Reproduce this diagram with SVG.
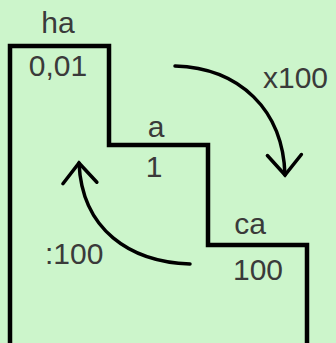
<svg xmlns="http://www.w3.org/2000/svg" width="336" height="343" viewBox="0 0 336 343">
<style>
.t{font-family:"Liberation Sans",Arial,sans-serif;font-size:30px;fill:#3a3a3a}
.c{text-anchor:middle}
.stair{fill:none;stroke:#000;stroke-width:4.5;stroke-linejoin:miter}
.arr{fill:none;stroke:#000;stroke-width:3.5;stroke-linecap:round}
</style>
<defs>
<marker id="head" markerUnits="userSpaceOnUse" markerWidth="44" markerHeight="44" viewBox="-24 -22 28 44" refX="0" refY="0" orient="auto">
<path d="M-20,-17 L0,0 L-20,17" fill="none" stroke="#000" stroke-width="3.5" stroke-linecap="round"/>
</marker>
</defs>
<rect width="336" height="343" fill="#ccf5cb"/>
<g id="stairs">
<path class="stair" d="M10,343 V46 H109 V145 H208 V245 H307 V343"/>
</g>
<g id="ha"><text class="t c" x="58" y="33">ha</text><text class="t c" x="58" y="76">0,01</text></g>
<g id="a"><text class="t c" x="156" y="137">a</text><text class="t c" x="154" y="177">1</text></g>
<g id="ca"><text class="t c" x="250" y="234">ca</text><text class="t c" x="258" y="280">100</text></g>
<g id="connectors">
<path class="arr" d="M175,66 C240,68 283,110 285,175" marker-end="url(#head)"/>
<path class="arr" d="M190,264 C130,262 82,230 79,163" marker-end="url(#head)"/>
<text class="t" x="263" y="88">x100</text>
<text class="t" x="45" y="264">:100</text>
</g>
</svg>
